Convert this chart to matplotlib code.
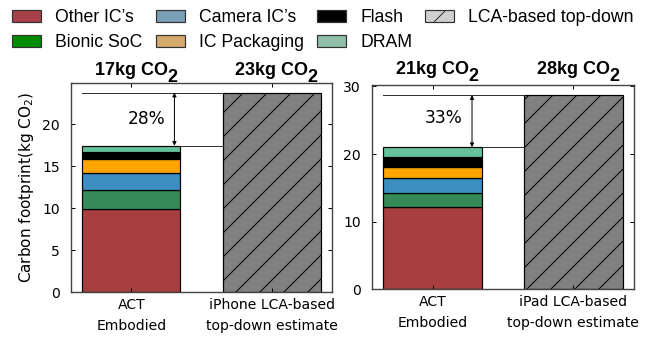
import numpy as np
import matplotlib
matplotlib.use('Agg')
import matplotlib.pyplot as plt
from matplotlib.patches import Patch
from matplotlib.transforms import Bbox, TransformedBbox

# embodied carbon breakdown, bottom to top of the stack (kg CO2)
components = ["Other IC\u2019s", "Bionic SoC", "Camera IC\u2019s", "IC Packaging", "Flash", "DRAM"]
iphone_act = [9.87, 2.30, 2.07, 1.66, 0.80, 0.76]
ipad_act = [12.10, 2.17, 2.13, 1.70, 1.40, 1.50]

# LCA-based top-down totals
iphone_lca = 23.8
ipad_lca = 28.7

iphone_xlabels = ["ACT\nEmbodied", "iPhone LCA-based\ntop-down estimate"]
ipad_xlabels = ["ACT\nEmbodied", "iPad LCA-based\ntop-down estimate"]
gap_labels = ["28%", "33%"]

bar_colors = ["#a83f3f", "#368a57", "#3b8ebf", "#ffa500", "#000000", "#66c29c"]
legend_colors = ["#a8404a", "#008a00", "#7aa0b8", "#d6a96c", "#000000", "#8fbfa6"]

plt.rcParams['hatch.linewidth'] = 0.5
sans = ['Liberation Sans', 'DejaVu Sans']

W, H = 660, 337
fig = plt.figure(figsize=(W / 144, H / 144), dpi=144)

ax1 = fig.add_axes([71 / W, 1 - 292 / H, 261 / W, 209 / H])
ax2 = fig.add_axes([372 / W, 1 - 289.3 / H, 262 / W, 204.3 / H])


def draw_panel(ax, act, lca, xlabels, gap, ymax, yticks, pct_xy, title_pad):
    x = np.arange(2)
    width = 0.7
    bottom = 0
    for val, col in zip(act, bar_colors):
        ax.bar(x[0], val, width, bottom=bottom, color=col, edgecolor='black', linewidth=0.6)
        bottom += val
    total = bottom
    ax.bar(x[1], lca, width, color='#808080', edgecolor='black', hatch='//', linewidth=0.6)

    # gap between bottom-up and top-down estimates
    ax.plot([-0.35, x[1] - width / 2], [lca, lca], color='#333333', lw=0.5)
    ax.plot([x[0] + width / 2, x[1] - width / 2], [total, total], color='#333333', lw=0.5)
    ax.annotate('', xy=(pct_xy[2], total), xytext=(pct_xy[2], lca),
                arrowprops=dict(arrowstyle='<|-|>', color='black', lw=0.5,
                                mutation_scale=4, shrinkA=0, shrinkB=0))
    ax.text(pct_xy[0], pct_xy[1], gap, ha='center', va='center', fontsize=8.5)

    # totals above each bar
    for xi, v in zip(x, [total, lca]):
        t = ax.annotate(f"{int(v + 1e-6)}kg CO", xy=(xi, 1), xycoords=('data', 'axes fraction'),
                        xytext=(0, title_pad), textcoords='offset points',
                        ha='center', va='baseline', fontsize=9, fontweight='bold', family=sans)
        ax.annotate('2', xy=(1, 0), xycoords=t, xytext=(-0.4, -1.4), textcoords='offset points',
                    ha='left', va='baseline', fontsize=9, fontweight='bold', family=sans)

    ax.set_xlim(-0.43, 1.43)
    ax.set_ylim(0, ymax)
    ax.set_yticks(yticks)
    ax.set_xticks(x)
    ax.set_xticklabels(xlabels, fontsize=7, linespacing=1.6)
    ax.tick_params(axis='both', direction='in', length=2, width=0.5, top=True, right=True,
                   labelsize=7)
    ax.tick_params(axis='y', pad=5.5)
    ax.tick_params(axis='x', pad=3)
    for s in ax.spines.values():
        s.set_color('#444444')
        s.set_linewidth(0.7)


draw_panel(ax1, iphone_act, iphone_lca, iphone_xlabels, gap_labels[0], 24.95,
           [0, 5, 10, 15, 20], (0.106, 20.6, 0.307), 4)
draw_panel(ax2, ipad_act, ipad_lca, ipad_xlabels, gap_labels[1], 30.2,
           [0, 10, 20, 30], (0.082, 25.3, 0.28), 5.5)

ax1.set_ylabel("Carbon footprint(kg CO$_2$)", fontsize=7.6, labelpad=3)

# the iPhone labels run under the second panel's tick labels, cut them there
clip = TransformedBbox(Bbox([[0, 0], [340 / W, 1]]), fig.transFigure)
for lbl in ax1.get_xticklabels():
    lbl.set_clip_box(clip)
    lbl.set_clip_on(True)

handles = [Patch(facecolor=c, edgecolor='#333333', linewidth=0.6) for c in legend_colors]
handles.append(Patch(facecolor='#d0d0d0', edgecolor='#333333', linewidth=0.6, hatch='//'))
labels = components + ["LCA-based top-down"]
fig.legend(handles, labels, loc='upper left', bbox_to_anchor=(12 / W, 1 - 9 / H), ncol=4,
           frameon=False, borderpad=0, borderaxespad=0, handlelength=1.65, handleheight=0.7,
           handletextpad=0.8, columnspacing=0.75, labelspacing=0.47,
           prop={'family': sans, 'size': 8.8})

fig.savefig('out.png', dpi=144)
